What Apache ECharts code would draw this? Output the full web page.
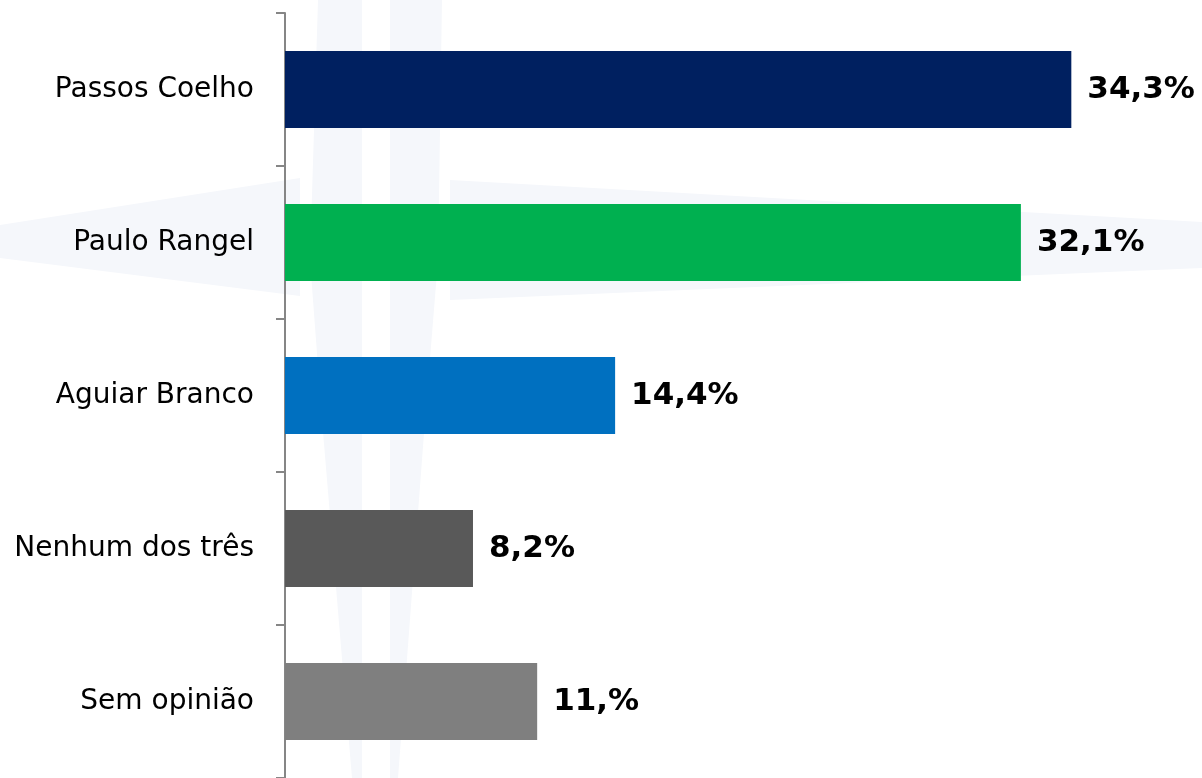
<!DOCTYPE html>
<html>
<head>
<meta charset="utf-8">
<style>
html,body{margin:0;padding:0;background:#fff;}
#chart{width:1202px;height:778px;}
</style>
<script src="https://cdn.jsdelivr.net/npm/echarts@6/dist/echarts.min.js"></script>
</head>
<body>
<div id="chart"></div>
<script>
const categories = ['Passos Coelho', 'Paulo Rangel', 'Aguiar Branco', 'Nenhum dos três', 'Sem opinião'];
const values = [34.3, 32.1, 14.4, 8.2, 11.0];
const valueLabels = ['34,3%', '32,1%', '14,4%', '8,2%', '11,%'];
const colors = ['#002060', '#00B050', '#0070C0', '#595959', '#7F7F7F'];

const chart = echarts.init(document.getElementById('chart'));
const wm = '#f5f7fb';
chart.setOption({
  animation: false,
  backgroundColor: '#fff',
  graphic: [
    { type: 'polygon', z: -10, silent: true, shape: { points: [[318,0],[362,0],[362,778],[352,778],[322,420],[310,260]] }, style: { fill: wm } },
    { type: 'polygon', z: -10, silent: true, shape: { points: [[390,0],[442,0],[438,260],[425,420],[398,778],[390,778]] }, style: { fill: wm } },
    { type: 'polygon', z: -10, silent: true, shape: { points: [[0,225],[300,178],[300,296],[0,258]] }, style: { fill: wm } },
    { type: 'polygon', z: -10, silent: true, shape: { points: [[450,180],[1202,222],[1202,268],[450,300]] }, style: { fill: wm } }
  ],
  grid: { left: 285, right: 0, top: 13, bottom: -2, containLabel: false },
  xAxis: {
    type: 'value', min: 0, max: 40,
    show: false
  },
  yAxis: {
    type: 'category',
    data: categories,
    inverse: true,
    axisLine: { show: true, lineStyle: { color: '#868686', width: 2 } },
    axisTick: { show: true, length: 9, lineStyle: { color: '#868686', width: 2 } },
    axisLabel: { color: '#000', fontFamily: 'DejaVu Sans', fontSize: 28, margin: 31 },
    splitLine: { show: false }
  },
  series: [{
    type: 'bar',
    data: values.map((v, i) => ({ value: v, itemStyle: { color: colors[i] } })),
    barWidth: 77,
    label: {
      show: true, position: 'right', distance: 16,
      formatter: p => valueLabels[p.dataIndex],
      color: '#000', fontWeight: 'bold', fontFamily: 'DejaVu Sans', fontSize: 31
    }
  }]
});
</script>
</body>
</html>
